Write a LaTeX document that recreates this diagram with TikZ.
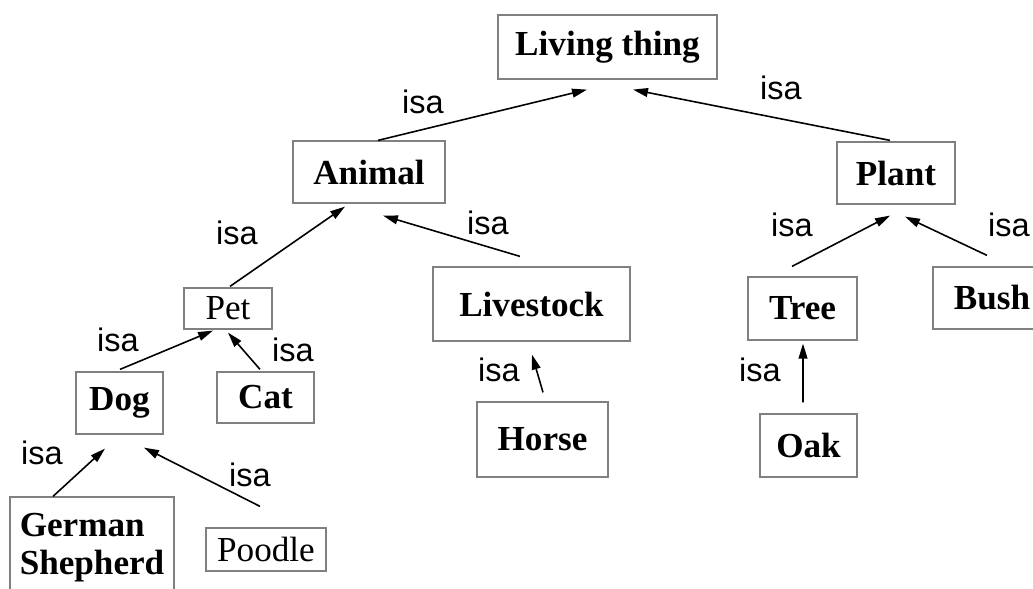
\documentclass[tikz,border=0pt]{standalone}
\usepackage{fontspec}
\setmainfont{Liberation Serif}
\newfontfamily\isafont{Liberation Sans}
\usepackage{tikz}
\usetikzlibrary{calc,arrows.meta}

\begin{document}
\begin{tikzpicture}[x=0.02cm,y=-0.02cm,
  box/.style={draw=black!50, line width=0.7pt, inner sep=0pt, align=left,
    font=\fontsize{20}{21.5}\selectfont\bfseries},
  isa/.style={-{Triangle[length=8.5pt,width=5pt]}, line width=0.9pt},
  lbl/.style={font=\isafont\fontsize{18.5}{20}\selectfont, inner sep=0pt}]
\useasboundingbox (0,0) rectangle (1033,588);
% boxes: name/x/y/width/height/text
\foreach \nm/\x/\y/\w/\h/\txt in {
living/607.5/47/219/64/{Living thing},
animal/369/172/152/62/{Animal},
plant/896/173/118/62/{Plant},
pet/228/308.5/88/41/{\mdseries Pet},
livestock/531.5/304/197/74/{Livestock},
tree/802.5/308.5/109/63/{Tree},
bush/992/298/118/62/{Bush},
dog/119.5/403/87/62/{Dog},
cat/265.5/397.5/97/51/{Cat},
horse/542.5/439.5/131/75/{Horse},
oak/808.5/445.5/97/63/{Oak},
gs/92/547.5/164/101/{German\\Shepherd},
poodle/266/549.5/120/43/{\mdseries Poodle}}{
\node[box, minimum width=\w*0.02cm, minimum height=\h*0.02cm] (\nm) at (\x,\y) {\txt};
}
% arrows: child/parent/offset at child top/offset at parent bottom
\foreach \c/\p/\cx/\cy/\px/\py in {
animal/living/9/0/-20.5/10,
plant/living/-6/-1/25.5/10,
pet/animal/2/-1/-24/3,
livestock/animal/-11.5/-10/14/12,
tree/plant/-10.5/-10/-6/11,
bush/plant/-5/-11/9/12,
dog/pet/0.5/-2/-15/1,
cat/pet/-5.5/-2/0/3,
horse/livestock/0.5/-9/0.5/13,
oak/tree/-5.5/-11/0.5/3,
gs/dog/-39/0/-14.5/14,
poodle/dog/-6/-21/24.5/13}{
\draw[isa] ($(\c.north)+(\cx,\cy)$) -- ($(\p.south)+(\px,\py)$);
}
% isa labels
\foreach \n/\x/\y in {1/423/102, 2/781/88, 3/237/233, 4/488/223, 5/792/225,
  6/1009/225, 7/118/340, 8/293/350, 9/499/370, 10/760/370, 11/42/453, 12/250/475}
  \node[lbl] (isa\n) at (\x,\y) {isa};
\end{tikzpicture}
\end{document}
